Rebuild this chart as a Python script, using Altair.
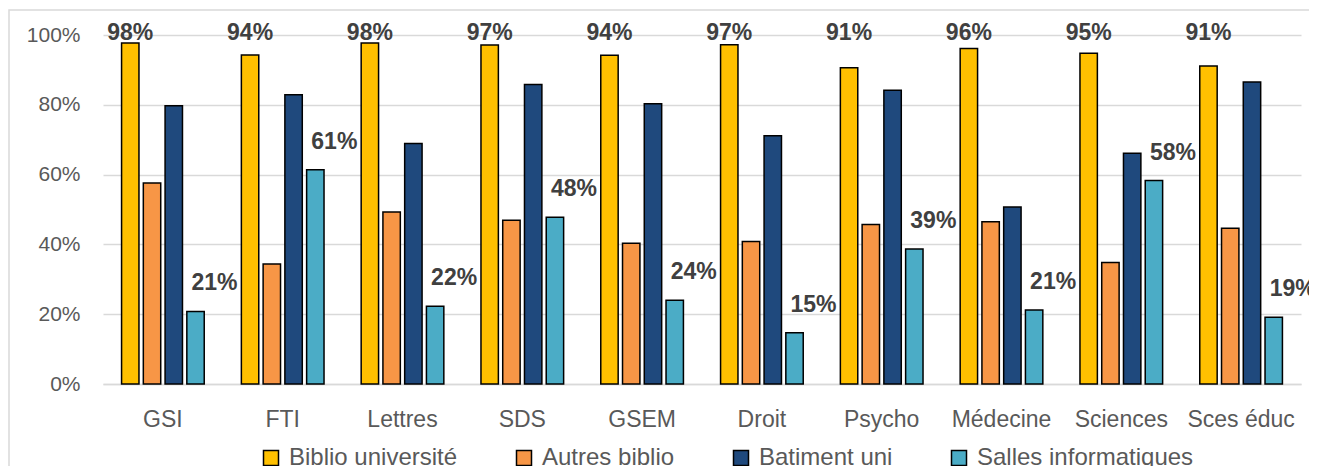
import altair as alt
import pandas as pd

categories = ["GSI", "FTI", "Lettres", "SDS", "GSEM", "Droit", "Psycho", "Médecine", "Sciences", "Sces éduc"]
series = ["Biblio université", "Autres biblio", "Batiment uni", "Salles informatiques"]
biblio_univ = [0.977, 0.943, 0.977, 0.971, 0.942, 0.972, 0.906, 0.961, 0.948, 0.911]
autres_biblio = [0.576, 0.344, 0.493, 0.469, 0.403, 0.408, 0.457, 0.465, 0.348, 0.446]
batiment_uni = [0.797, 0.829, 0.689, 0.858, 0.803, 0.711, 0.842, 0.507, 0.661, 0.865]
salles_info = [0.208, 0.614, 0.223, 0.478, 0.240, 0.147, 0.387, 0.212, 0.583, 0.191]
colors = ["#FFC000", "#F79646", "#1F497D", "#4BACC6"]

rows = []
for s, vals in zip(series, [biblio_univ, autres_biblio, batiment_uni, salles_info]):
    for c, v in zip(categories, vals):
        rows.append({"category": c, "series": s, "value": v})
df = pd.DataFrame(rows)

x = alt.X("category:N", sort=categories, title=None,
          scale=alt.Scale(paddingInner=0.31, paddingOuter=0.155),
          axis=alt.Axis(labelAngle=0, labelFontSize=23, labelColor="#595959", labelPadding=24,
                        domainColor="#D9D9D9", domainWidth=1.5, ticks=False, grid=False))
xo = alt.XOffset("series:N", sort=series, scale=alt.Scale(paddingInner=0.2))
y = alt.Y("value:Q", title=None, scale=alt.Scale(domain=[0, 1]),
          axis=alt.Axis(format=".0%", values=[0, 0.2, 0.4, 0.6, 0.8, 1.0], labelFontSize=21,
                        labelColor="#595959", gridColor="#D9D9D9", gridWidth=1.5,
                        domain=False, ticks=False, labelPadding=23))

base = alt.Chart(df)

# chart-area border (decorative frame, as in the original spreadsheet chart)
frame = alt.Chart(pd.DataFrame({"frame": [0]})).mark_rect(
    fill="transparent", stroke="#D9D9D9", strokeWidth=1.5
).encode(x=alt.value(-94), x2=alt.value(1215), y=alt.value(-25), y2=alt.value(450))

bars = base.mark_bar(stroke="black", strokeWidth=1.5).encode(
    x=x, xOffset=xo, y=y,
    color=alt.Color("series:N", sort=series, scale=alt.Scale(domain=series, range=colors),
                    legend=alt.Legend(orient="none", legendX=156, legendY=411, direction="horizontal",
                                      title=None, symbolType="square", symbolSize=225,
                                      symbolStrokeColor="black", symbolStrokeWidth=1.5,
                                      labelFontSize=24, labelColor="#595959", columnPadding=54,
                                      labelOffset=6, labelLimit=400, padding=0)),
)

top_labels = base.transform_filter(alt.datum.series == "Biblio université").transform_calculate(
    ly="1.0"
).mark_text(fontSize=23, fontWeight="bold", color="#404040", baseline="middle", dy=-2).encode(
    x=x, xOffset=xo, y=alt.Y("ly:Q"), text=alt.Text("value:Q", format=".0%")
)

cyan_labels = base.transform_filter(alt.datum.series == "Salles informatiques").mark_text(
    fontSize=23, fontWeight="bold", color="#404040", baseline="middle", dx=19, dy=-28
).encode(
    x=x, xOffset=xo, y=alt.Y("value:Q"), text=alt.Text("value:Q", format=".0%")
)

chart = alt.layer(frame, bars, top_labels, cyan_labels).properties(
    width=1198, height=349,
    autosize=alt.AutoSizeParams(type="none"),
    padding={"left": 95, "top": 27, "right": 8, "bottom": 82},
).configure(font="Liberation Sans").configure_view(strokeWidth=0)

chart.save("out.html", embed_options={"renderer": "svg", "actions": False})
